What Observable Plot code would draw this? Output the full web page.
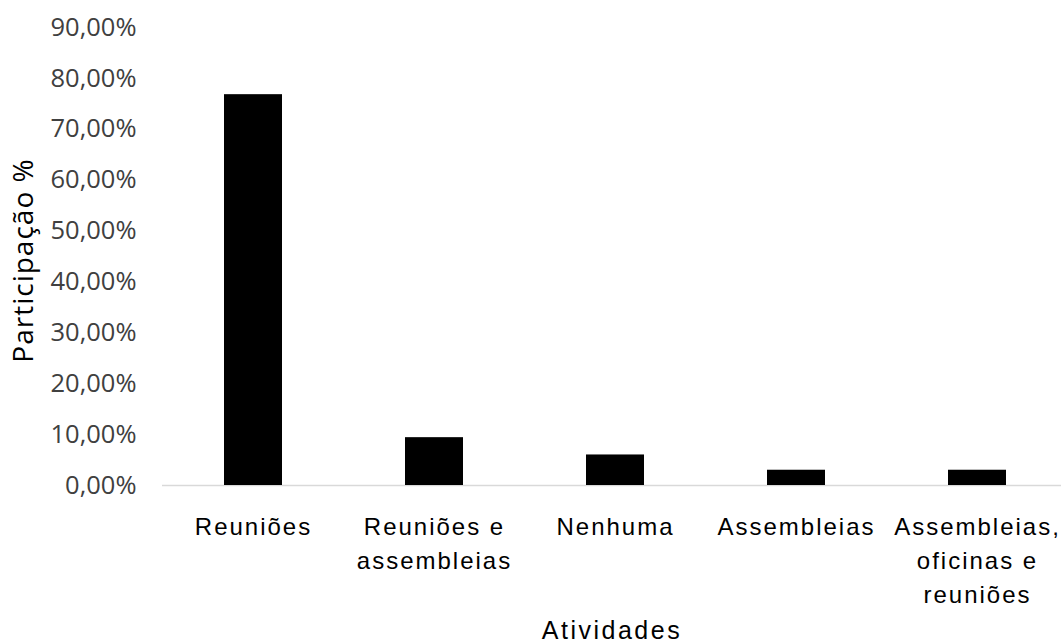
<!DOCTYPE html>
<html>
<head>
<meta charset="utf-8">
<script src="https://cdn.jsdelivr.net/npm/d3@7"></script>
<script src="https://cdn.jsdelivr.net/npm/@observablehq/plot@0.6"></script>
<style>
  html, body { margin: 0; padding: 0; background: #fff; }
  #chart { width: 1061px; height: 643px; overflow: hidden; }
  #chart g[aria-label="x-axis tick label"] text { letter-spacing: 2px; }
  #chart g.ylab text { letter-spacing: 1px; }
  #chart g.xlab text { letter-spacing: 2.5px; }
</style>
</head>
<body>
<div id="chart"></div>
<script>
const categories = ["Reuniões", "Reuniões e\nassembleias", "Nenhuma", "Assembleias", "Assembleias,\noficinas e\nreuniões"];
const values = [0.768, 0.094, 0.060, 0.030, 0.030];
const yTicks = [0, 0.1, 0.2, 0.3, 0.4, 0.5, 0.6, 0.7, 0.8, 0.9];
const yLabel = "Participação %";
const xLabel = "Atividades";

const data = categories.map((c, i) => ({ category: c, value: values[i] }));
const fmt = v => (v * 100).toFixed(2).replace(".", ",") + "%";

const chart = Plot.plot({
  width: 1061,
  height: 643,
  marginLeft: 162,
  marginRight: 0,
  marginTop: 27,
  marginBottom: 158,
  style: { background: "#fff", color: "#000" },
  x: { domain: categories, range: [162, 1068], paddingInner: 0.68, paddingOuter: 0.34 },
  y: { domain: [0, 0.9], range: [485, 27] },
  marks: [
    Plot.ruleY([0], { stroke: "#d9d9d9", strokeWidth: 1.5 }),
    Plot.barY(data, { x: "category", y: "value", fill: "#000" }),
    Plot.axisY({
      ticks: yTicks, tickFormat: fmt, tickSize: 0, tickPadding: 26,
      fontSize: 25.5, fontFamily: "Open Sans", fill: "#404040", label: null
    }),
    Plot.axisX({
      tickSize: 0, tickPadding: 26, fontSize: 24, lineHeight: 1.4,
      fontFamily: "Liberation Sans", fill: "#000", label: null
    }),
    Plot.text([yLabel], {
      frameAnchor: "left", textAnchor: "middle", dx: -138, dy: 4, rotate: -90, fontSize: 28,
      fontFamily: "Open Sans", fill: "#000"
    }),
    Plot.text([xLabel], {
      frameAnchor: "bottom", textAnchor: "middle", dy: 136, lineAnchor: "top", fontSize: 25,
      fontFamily: "Liberation Sans", fill: "#000"
    })
  ]
});
// tag the label groups for letter spacing
const groups = chart.querySelectorAll('g[aria-label="text"]');
if (groups[0]) groups[0].classList.add("ylab");
if (groups[1]) groups[1].classList.add("xlab");
document.getElementById("chart").appendChild(chart);
</script>
</body>
</html>
